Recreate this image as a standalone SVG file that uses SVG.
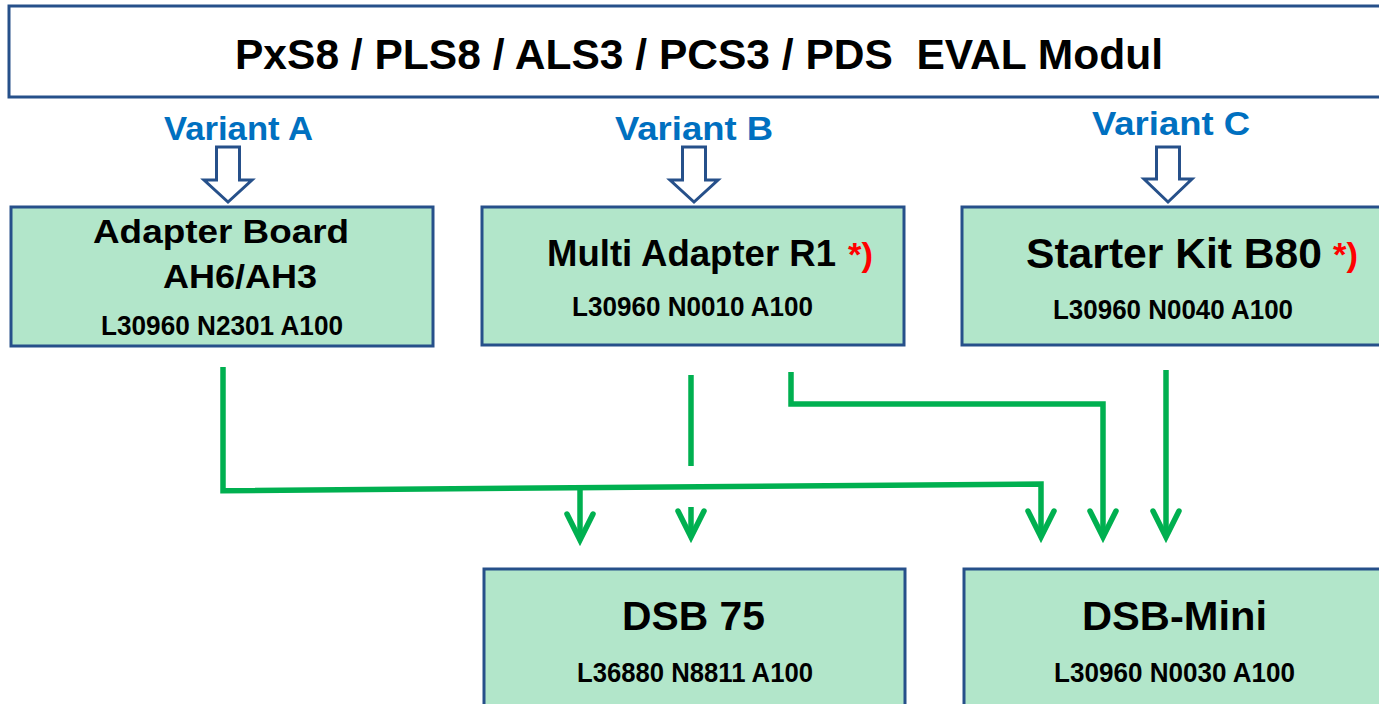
<svg xmlns="http://www.w3.org/2000/svg" width="1379" height="704" viewBox="0 0 1379 704">
<style>
.box{fill:#B2E6CA;stroke:#26508A;stroke-width:3}
.hdr{fill:#FFFFFF;stroke:#26508A;stroke-width:3}
.t{font-family:"Liberation Sans",Arial,sans-serif;font-weight:bold;fill:#000}
.var{font-family:"Liberation Sans",Arial,sans-serif;font-weight:bold;fill:#0070C0}
.red{font-family:"Liberation Sans",Arial,sans-serif;font-weight:bold;fill:#FF0000}
.hollow{fill:#FFFFFF;stroke:#26508A;stroke-width:3;stroke-linejoin:miter}
.con{fill:none;stroke:#00B050;stroke-width:5.5;stroke-linecap:butt;stroke-linejoin:miter}
</style>
<defs>
<marker id="chev" markerUnits="userSpaceOnUse" viewBox="-40 -25 50 50" refX="0" refY="0" markerWidth="50" markerHeight="50" orient="auto" overflow="visible">
<path d="M-26,-13 L0,0 L-26,13" fill="none" stroke="#00B050" stroke-width="5.5" stroke-linecap="round" stroke-linejoin="miter"/>
</marker>
</defs>
<rect width="1379" height="704" fill="#FFFFFF"/>

<g id="header">
<rect class="hdr" x="9" y="6" width="1392" height="91"/>
<text class="t" x="235" y="69" font-size="42" textLength="928" lengthAdjust="spacingAndGlyphs" xml:space="preserve" style="white-space:pre">PxS8 / PLS8 / ALS3 / PCS3 / PDS  EVAL Modul</text>
</g>

<g id="variant-a">
<text class="var" x="164" y="140" font-size="33" textLength="149" lengthAdjust="spacingAndGlyphs">Variant A</text>
<polygon class="hollow" points="216.5,147 239.5,147 239.5,180 252,180 228,202 204,180 216.5,180"/>
</g>
<g id="variant-b">
<text class="var" x="615" y="140" font-size="34" textLength="158" lengthAdjust="spacingAndGlyphs">Variant B</text>
<polygon class="hollow" points="682.5,147 705.5,147 705.5,180 718,180 694,202 670,180 682.5,180"/>
</g>
<g id="variant-c">
<text class="var" x="1092" y="135" font-size="34" textLength="158" lengthAdjust="spacingAndGlyphs">Variant C</text>
<polygon class="hollow" points="1156.5,147 1179.5,147 1179.5,179 1192,179 1168,202 1144,179 1156.5,179"/>
</g>

<g id="adapter-board">
<rect class="box" x="11" y="207" width="422" height="139"/>
<text class="t" x="93" y="243" font-size="34" textLength="256" lengthAdjust="spacingAndGlyphs">Adapter Board</text>
<text class="t" x="163" y="288" font-size="34" textLength="154" lengthAdjust="spacingAndGlyphs">AH6/AH3</text>
<text class="t" x="101" y="335" font-size="27" textLength="242" lengthAdjust="spacingAndGlyphs">L30960 N2301 A100</text>
</g>

<g id="multi-adapter">
<rect class="box" x="482" y="207" width="422" height="138"/>
<text class="t" x="547" y="266" font-size="37" textLength="289" lengthAdjust="spacingAndGlyphs">Multi Adapter R1</text>
<text class="red" x="848" y="266" font-size="34" textLength="25" lengthAdjust="spacingAndGlyphs">*)</text>
<text class="t" x="572" y="316" font-size="27" textLength="241" lengthAdjust="spacingAndGlyphs">L30960 N0010 A100</text>
</g>

<g id="starter-kit">
<rect class="box" x="962" y="207" width="440" height="138"/>
<text class="t" x="1026" y="268" font-size="43" textLength="296" lengthAdjust="spacingAndGlyphs">Starter Kit B80</text>
<text class="red" x="1333" y="266" font-size="34" textLength="25" lengthAdjust="spacingAndGlyphs">*)</text>
<text class="t" x="1053" y="319" font-size="27" textLength="240" lengthAdjust="spacingAndGlyphs">L30960 N0040 A100</text>
</g>

<g id="dsb-75">
<rect class="box" x="484" y="569" width="421" height="150"/>
<text class="t" x="622" y="630" font-size="40" textLength="143" lengthAdjust="spacingAndGlyphs">DSB 75</text>
<text class="t" x="577" y="682" font-size="27" textLength="236" lengthAdjust="spacingAndGlyphs">L36880 N8811 A100</text>
</g>

<g id="dsb-mini">
<rect class="box" x="964" y="569" width="440" height="150"/>
<text class="t" x="1082" y="630" font-size="40" textLength="185" lengthAdjust="spacingAndGlyphs">DSB-Mini</text>
<text class="t" x="1054" y="682" font-size="27" textLength="241" lengthAdjust="spacingAndGlyphs">L30960 N0030 A100</text>
</g>

<g id="connectors">
<path class="con" d="M223,367 V490.7 L1041,484 V537" marker-end="url(#chev)"/>
<path class="con" d="M580,489 V540" marker-end="url(#chev)"/>
<path class="con" d="M691,375 V466"/>
<path class="con" d="M691,507 V537" marker-end="url(#chev)"/>
<path class="con" d="M791,372 V404 H1103 V537" marker-end="url(#chev)"/>
<path class="con" d="M1166,370 V537" marker-end="url(#chev)"/>
</g>
</svg>
